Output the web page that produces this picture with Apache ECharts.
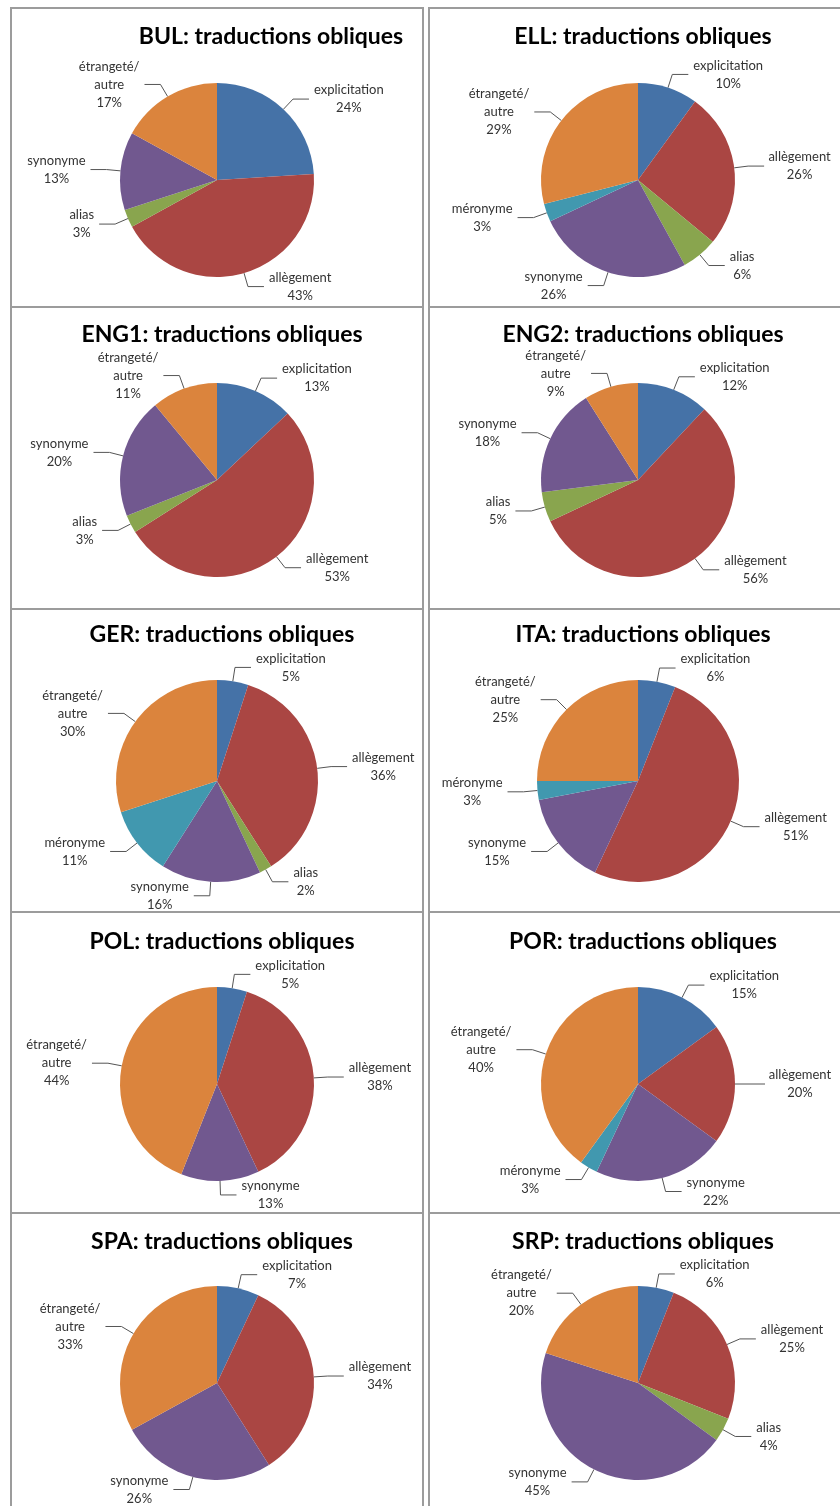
<!DOCTYPE html>
<html>
<head>
<meta charset="utf-8">
<script src="https://cdn.jsdelivr.net/npm/echarts@6/dist/echarts.min.js"></script>
<style>
  body { margin: 0; background: #fff; }
  #chart { width: 840px; height: 1506px; }
</style>
</head>
<body>
<div id="chart"></div>
<script>
// slice order as in the source workbook (clockwise from 12 o'clock)
const categories = ['explicitation', 'allègement', 'alias', 'synonyme', 'méronyme', 'étrangeté/\nautre'];
const colors = ['#4572A7', '#AA4643', '#89A54E', '#71588F', '#4198AF', '#DB843D'];

// percentages per language, 0 = category absent
const languages = ['BUL', 'ELL', 'ENG1', 'ENG2', 'GER', 'ITA', 'POL', 'POR', 'SPA', 'SRP'];
const bul  = [24, 43, 3, 13, 0, 17];
const ell  = [10, 26, 6, 26, 3, 29];
const eng1 = [13, 53, 3, 20, 0, 11];
const eng2 = [12, 56, 5, 18, 0, 9];
const ger  = [5, 36, 2, 16, 11, 30];
const ita  = [6, 51, 0, 15, 3, 25];
const pol  = [5, 38, 0, 13, 0, 44];
const por  = [15, 20, 0, 22, 3, 40];
const spa  = [7, 34, 0, 26, 0, 33];
const srp  = [6, 25, 4, 45, 0, 20];
const values = [bul, ell, eng1, eng2, ger, ita, pol, por, spa, srp];

// panel grid
const colX = [217, 638];
const rowTop = [8, 307, 609, 912, 1213, 1520];
const pieCY = [180, 480, 781, 1084, 1383];
const pieR = [97, 97, 101, 97, 97];
const titleY = [20, 318, 618, 925, 1225];

let chart = echarts.init(document.getElementById('chart'));

let titles = [];
let series = [];
let boxes = [];

languages.forEach(function (lang, i) {
    let col = i % 2, row = Math.floor(i / 2);
    titles.push({
        text: lang + ': traductions obliques',
        left: col === 0 ? (i === 0 ? 266 : colX[0]) : colX[1],
        top: titleY[row],
        textAlign: 'center',
        textStyle: { fontFamily: 'Lato', fontWeight: 'bold', fontSize: 23, color: '#000' }
    });
    let data = [];
    values[i].forEach(function (v, k) {
        if (v > 0) data.push({ name: categories[k], value: v, itemStyle: { color: colors[k] } });
    });
    series.push({
        type: 'pie',
        center: [colX[col], pieCY[row]],
        radius: pieR[row],
        startAngle: 90,
        clockwise: true,
        animation: false,
        data: data,
        label: {
            show: true,
            position: 'outside',
            overflow: 'none',
            formatter: function (p) {
                return p.name.split('\n').map(function (s) { return '{t|' + s + '}'; }).join('\n') +
                    '\n{t|' + p.value + '%}';
            },
            rich: { t: { align: 'center', fontFamily: 'Lato', fontSize: 13, color: '#333', lineHeight: 18 } }
        },
        labelLine: { show: true, length: 14, length2: 16, lineStyle: { color: '#555', width: 1 } },
        emphasis: { disabled: true }
    });
    boxes.push({
        type: 'rect',
        shape: { x: col === 0 ? 11 : 429, y: rowTop[row], width: 412, height: rowTop[row + 1] - rowTop[row] },
        style: { fill: 'none', stroke: '#9c9c9c', lineWidth: 2 },
        z: -1
    });
});

chart.setOption({
    backgroundColor: '#fff',
    title: titles,
    graphic: boxes,
    series: series
});
</script>
</body>
</html>
